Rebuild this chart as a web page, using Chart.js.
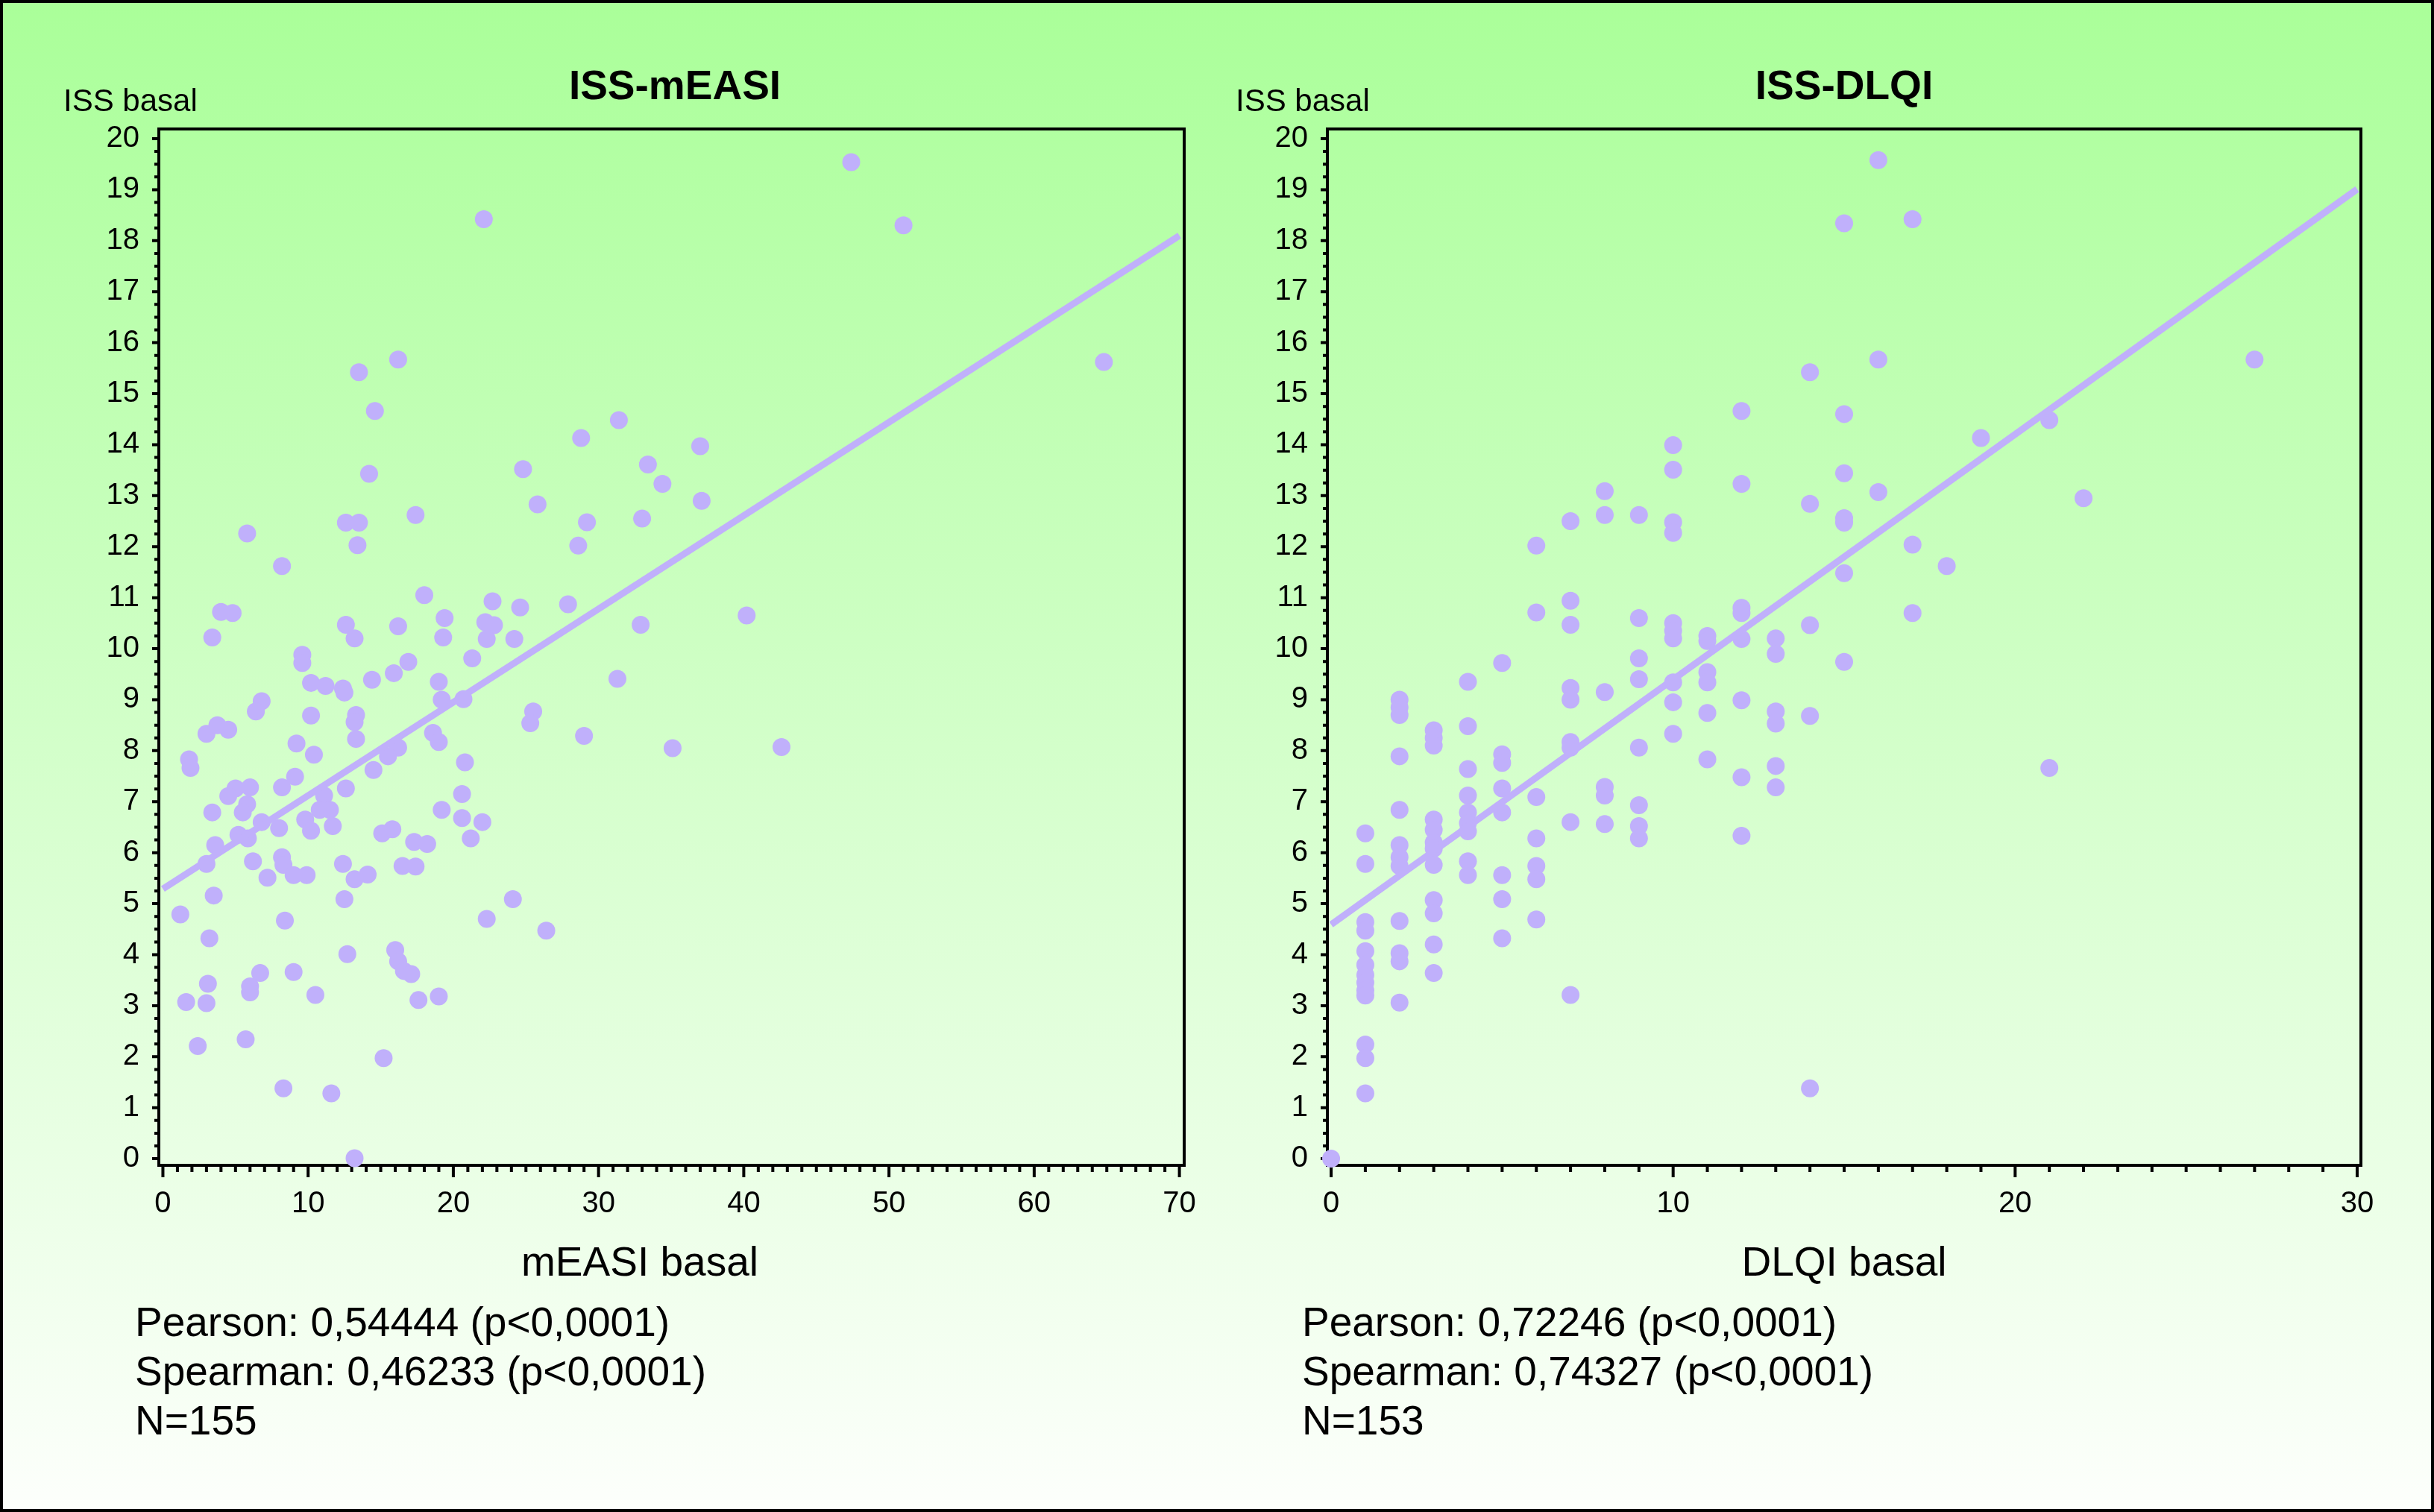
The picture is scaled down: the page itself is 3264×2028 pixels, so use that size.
<!DOCTYPE html>
<html>
<head>
<meta charset="utf-8">
<script src="https://cdn.jsdelivr.net/npm/chart.js@4.4.1/dist/chart.umd.min.js"></script>
<style>
    html, body { margin: 0; padding: 0; }
    #page {
        position: relative;
        width: 3264px;
        height: 2028px;
        overflow: hidden;
        background: linear-gradient(to bottom, #aaff99 0%, #fdfffc 100%);
        font-family: "Liberation Sans", Arial, sans-serif;
        color: #000;
    }
    #page::after {
        content: '';
        position: absolute;
        left: 0; top: 0; right: 0; bottom: 0;
        border: 4px solid #000;
        pointer-events: none;
    }
    .panel { position: absolute; top: 0; width: 1632px; height: 2028px; }
    .txt { position: absolute; white-space: nowrap; line-height: 1; }
    .title { font-weight: bold; font-size: 55px; transform: translateX(-50%); }
    .ylab { font-size: 42px; }
    .xlab { font-size: 55px; transform: translateX(-50%); }
    .stat { font-size: 55px; }
</style>
</head>
<body>
<div id="page">
    <div class="panel" style="left:0"><canvas id="chartEasi" width="1632" height="2028"></canvas></div>
    <div class="panel" style="left:1632px"><canvas id="chartDlqi" width="1632" height="2028"></canvas></div>

    <div class="txt title" style="left:905px; top:87px">ISS-mEASI</div>
    <div class="txt ylab" style="left:85px; top:114px">ISS basal</div>
    <div class="txt xlab" style="left:858px; top:1665px">mEASI basal</div>
    <div class="txt stat" style="left:181px; top:1746px">Pearson: 0,54444 (p&lt;0,0001)</div>
    <div class="txt stat" style="left:181px; top:1812px">Spearman: 0,46233 (p&lt;0,0001)</div>
    <div class="txt stat" style="left:181px; top:1878px">N=155</div>

    <div class="txt title" style="left:2473px; top:87px">ISS-DLQI</div>
    <div class="txt ylab" style="left:1657px; top:114px">ISS basal</div>
    <div class="txt xlab" style="left:2473px; top:1665px">DLQI basal</div>
    <div class="txt stat" style="left:1746px; top:1746px">Pearson: 0,72246 (p&lt;0,0001)</div>
    <div class="txt stat" style="left:1746px; top:1812px">Spearman: 0,74327 (p&lt;0,0001)</div>
    <div class="txt stat" style="left:1746px; top:1878px">N=153</div>
</div>

<script>
// ISS-mEASI scatter
const easiX = [
    22.1, 16.2, 13.5, 14.6, 31.4, 28.8, 33.4, 24.8, 14.2, 34.4, 25.8, 17.4, 12.6, 13.5, 29.2, 33.0,
    5.8, 13.4, 28.6, 8.2, 18.0, 4.0, 4.8, 22.7, 24.6, 27.9, 19.4, 12.6, 16.2, 22.2, 22.8, 32.9,
    3.4, 13.2, 19.3, 22.3, 24.2,
    9.6, 9.6, 16.9, 21.3, 14.4, 15.9, 19.0, 10.2, 11.2, 12.4, 12.5, 31.3, 6.8, 6.4, 19.2, 20.7,
    10.2, 13.3, 13.2, 25.5, 25.3, 3.0, 3.75, 4.5, 13.3, 29.0, 35.1, 9.2, 10.4, 18.6, 19.0, 16.2,
    15.5, 1.8, 1.9, 20.8, 9.1, 8.2, 14.5, 12.6, 5.0, 6.0, 4.5, 5.8, 5.5, 3.4, 11.1, 11.5, 10.8,
    20.6, 19.2, 6.8, 8.0, 9.8, 10.2, 11.7, 20.6, 22.0, 21.2, 15.1, 15.8, 5.2, 5.85, 3.6, 3.0,
    6.2, 17.3, 18.2, 8.2, 8.3, 9.0, 9.9, 7.2, 12.4, 13.2, 14.1, 16.5, 17.4, 3.5, 1.2, 12.5,
    24.1, 8.4, 22.3, 26.4, 3.2, 12.7, 16.0, 16.2, 16.6, 17.1, 6.7, 9.0, 3.1, 1.6, 3.0, 6.0,
    6.0, 10.5, 17.6, 19.0, 2.4, 5.7, 15.2, 8.3, 11.6, 13.2,
    40.2, 42.6, 47.4, 51.0, 64.8, 37.0, 37.1
];
const easiIss = [
    18.42, 15.67, 15.42, 14.66, 14.48, 14.13, 13.61, 13.52, 13.43, 13.23, 12.83, 12.62, 12.47, 12.47, 12.48, 12.55,
    12.26, 12.03, 12.02, 11.62, 11.05, 10.72, 10.70, 10.93, 10.81, 10.87, 10.60, 10.47, 10.44, 10.52, 10.46, 10.47,
    10.22, 10.20, 10.22, 10.19, 10.19,
    9.88, 9.72, 9.74, 9.81, 9.39, 9.52, 9.35, 9.33, 9.27, 9.22, 9.14, 9.41, 8.97, 8.77, 9.00, 9.01,
    8.69, 8.70, 8.56, 8.77, 8.54, 8.33, 8.50, 8.41, 8.23, 8.29, 8.05, 8.14, 7.92, 8.35, 8.17, 8.06,
    7.89, 7.83, 7.66, 7.77, 7.49, 7.28, 7.62, 7.26, 7.26, 7.28, 7.11, 6.95, 6.79, 6.79, 7.12, 6.84, 6.84,
    7.15, 6.84, 6.60, 6.48, 6.65, 6.43, 6.52, 6.68, 6.60, 6.28, 6.38, 6.46, 6.35, 6.28, 6.15, 5.78,
    5.83, 6.21, 6.17, 5.91, 5.76, 5.56, 5.56, 5.51, 5.78, 5.48, 5.57, 5.74, 5.73, 5.16, 4.79, 5.09,
    5.09, 4.67, 4.70, 4.47, 4.32, 4.01, 4.09, 3.87, 3.68, 3.62, 3.64, 3.66, 3.43, 3.07, 3.05, 3.38,
    3.26, 3.21, 3.11, 3.18, 2.21, 2.34, 1.97, 1.38, 1.28, 0.01,
    10.65, 8.07, 19.54, 18.30, 15.62, 13.97, 12.90
];
const easiFitX = [0, 70];
const easiFitY = [5.29, 18.1];

// ISS-DLQI scatter
const dlqiX = [
    0,
    1, 1, 1, 1, 1, 1, 1, 1, 1, 1, 1, 1, 1,
    2, 2, 2, 2, 2, 2, 2, 2, 2, 2, 2, 2,
    3, 3, 3, 3, 3, 3, 3, 3, 3, 3, 3, 3,
    4, 4, 4, 4, 4, 4, 4, 4, 4,
    5, 5, 5, 5, 5, 5, 5, 5,
    6, 6, 6, 6, 6, 6, 6,
    7, 7, 7, 7, 7, 7, 7, 7, 7,
    8, 8, 8, 8, 8, 8,
    9, 9, 9, 9, 9, 9, 9, 9,
    10, 10, 10, 10, 10, 10, 10, 10, 10, 10,
    11, 11, 11, 11, 11, 11,
    12, 12, 12, 12, 12, 12, 12, 12,
    13, 13, 13, 13, 13, 13,
    14, 14, 14, 14, 14,
    15, 15, 15, 15, 15, 15, 15,
    16, 16, 16,
    17, 17, 17,
    18, 19, 21, 21, 22, 27
];
const dlqiIss = [
    0.0,
    6.38, 5.78, 4.64, 4.47, 4.07, 3.80, 3.60, 3.45, 3.30, 3.20, 2.24, 1.97, 1.28,
    9.00, 8.85, 8.70, 7.89, 6.84, 6.15, 5.91, 5.74, 4.66, 4.03, 3.87, 3.06,
    8.40, 8.25, 8.10, 6.65, 6.45, 6.20, 6.08, 5.76, 5.07, 4.81, 4.20, 3.64,
    9.35, 8.48, 7.64, 7.12, 6.79, 6.58, 6.42, 5.83, 5.56,
    9.72, 7.93, 7.76, 7.26, 6.79, 5.56, 5.09, 4.32,
    12.02, 10.71, 7.09, 6.28, 5.74, 5.48, 4.69,
    12.50, 10.94, 10.47, 9.23, 9.00, 8.17, 8.06, 6.60, 3.21,
    13.09, 12.62, 9.15, 7.29, 7.12, 6.56,
    12.62, 10.60, 9.81, 9.40, 8.06, 6.93, 6.52, 6.28,
    13.99, 13.51, 12.48, 12.27, 10.50, 10.35, 10.20, 9.34, 8.95, 8.33,
    10.25, 10.15, 9.54, 9.34, 8.74, 7.83,
    14.66, 13.23, 10.80, 10.70, 10.19, 8.99, 7.48, 6.33,
    10.20, 9.90, 8.77, 8.53, 7.70, 7.28,
    15.42, 12.84, 10.46, 8.68, 1.38,
    18.34, 14.60, 13.44, 12.56, 12.47, 11.48, 9.74,
    19.58, 15.67, 13.07,
    18.42, 12.04, 10.70,
    11.62, 14.13, 14.48, 7.66, 12.95, 15.67
];
const dlqiFitX = [0, 30];
const dlqiFitY = [4.59, 19.01];

// tick labels
const issTicks = [0, 1, 2, 3, 4, 5, 6, 7, 8, 9, 10, 11, 12, 13, 14, 15, 16, 17, 18, 19, 20];
const easiTicks = [0, 10, 20, 30, 40, 50, 60, 70];
const dlqiTicks = [0, 10, 20, 30];

const POINT_COLOR = '#c0b0fb';
const FONT = '"Liberation Sans", Arial, sans-serif';
const CANVAS_H = 2028;
const CANVAS_W = 1632;
const XAXIS_H = 100;

// frame + minor/major tick marks drawn through the chart scales
const frameTicks = {
    id: 'frameTicks',
    beforeDatasetsDraw(chart, args, opts) {
        const { ctx, chartArea: a } = chart;
        const x = chart.scales.x, y = chart.scales.y;
        ctx.save();
        ctx.strokeStyle = '#000';
        ctx.lineWidth = 4;
        ctx.beginPath();
        for (let v = 0; v <= opts.xEnd + 1e-9; v += 1) {
            const px = x.getPixelForValue(v);
            const len = v % 10 === 0 ? 16 : 9;
            ctx.moveTo(px, a.bottom);
            ctx.lineTo(px, a.bottom + len);
        }
        for (let v = 0; v <= 20 + 1e-9; v += 0.25) {
            const py = y.getPixelForValue(v);
            const len = Number.isInteger(v) ? 9 : 6;
            ctx.moveTo(a.left, py);
            ctx.lineTo(a.left - len, py);
        }
        ctx.stroke();
        ctx.strokeRect(a.left, a.top, a.right - a.left, a.bottom - a.top);
        ctx.restore();
    }
};

function makeChart(canvasId, xs, ys, fitX, fitY, xTicks, xMin, xMax, area) {
    const points = xs.map((v, i) => ({ x: v, y: ys[i] }));
    const fit = fitX.map((v, i) => ({ x: v, y: fitY[i] }));
    const tickFont = { family: FONT, size: 40 };

    return new Chart(document.getElementById(canvasId), {
        type: 'scatter',
        data: {
            datasets: [
                {
                    type: 'line',
                    data: fit,
                    borderColor: POINT_COLOR,
                    borderWidth: 9,
                    pointRadius: 0,
                    fill: false,
                    order: 0
                },
                {
                    data: points,
                    backgroundColor: POINT_COLOR,
                    borderWidth: 0,
                    pointRadius: 12,
                    clip: false,
                    order: 1
                }
            ]
        },
        options: {
            responsive: false,
            animation: false,
            devicePixelRatio: 1,
            layout: {
                padding: {
                    left: 0,
                    top: area.top,
                    right: CANVAS_W - area.right,
                    bottom: CANVAS_H - area.bottom - XAXIS_H
                }
            },
            plugins: {
                legend: { display: false },
                tooltip: { enabled: false },
                frameTicks: { xEnd: xTicks[xTicks.length - 1] }
            },
            scales: {
                x: {
                    type: 'linear',
                    position: 'bottom',
                    min: xMin,
                    max: xMax,
                    afterBuildTicks: (scale) => { scale.ticks = xTicks.map(v => ({ value: v })); },
                    afterFit: (scale) => { scale.height = XAXIS_H; },
                    ticks: { font: tickFont, color: '#000', padding: 28, maxRotation: 0, autoSkip: false },
                    grid: { display: false, drawTicks: false },
                    border: { display: false }
                },
                y: {
                    type: 'linear',
                    min: -0.13,
                    max: 20.19,
                    afterBuildTicks: (scale) => { scale.ticks = issTicks.map(v => ({ value: v })); },
                    afterFit: (scale) => { scale.width = area.left; },
                    ticks: { font: tickFont, color: '#000', padding: 26, autoSkip: false },
                    grid: { display: false, drawTicks: false },
                    border: { display: false }
                }
            }
        },
        plugins: [frameTicks]
    });
}

makeChart('chartEasi', easiX, easiIss, easiFitX, easiFitY, easiTicks, -0.28, 70.33,
    { left: 213, top: 173, right: 1597, bottom: 1563 });
makeChart('chartDlqi', dlqiX, dlqiIss, dlqiFitX, dlqiFitY, dlqiTicks, -0.11, 30.11,
    { left: 148, top: 173, right: 1534, bottom: 1563 });
</script>
</body>
</html>
